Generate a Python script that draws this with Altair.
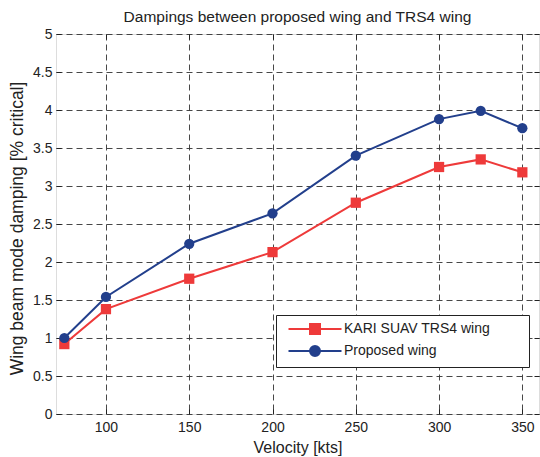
import altair as alt
import pandas as pd

velocity = [75, 100, 150, 200, 250, 300, 325, 350]
kari_trs4 = [0.92, 1.38, 1.78, 2.13, 2.78, 3.25, 3.35, 3.18]
proposed = [1.00, 1.54, 2.24, 2.64, 3.40, 3.88, 3.99, 3.76]
series_names = ["KARI SUAV TRS4 wing", "Proposed wing"]
series_colors = ["#ee3a3a", "#223f8c"]
x_ticks = [100, 150, 200, 250, 300, 350]
y_ticks = [0, 0.5, 1, 1.5, 2, 2.5, 3, 3.5, 4, 4.5, 5]

df = pd.DataFrame({
    "velocity": velocity + velocity,
    "damping": kari_trs4 + proposed,
    "series": [series_names[0]] * len(velocity) + [series_names[1]] * len(velocity),
})

FONT = "Liberation Sans"
xs = alt.Scale(domain=[70, 360], nice=False, zero=False)
ys = alt.Scale(domain=[0, 5], nice=False, zero=False)

x_main = alt.X("velocity:Q", scale=xs, axis=alt.Axis(
    values=x_ticks, title="Velocity [kts]", orient="bottom", ticks=False,
    grid=True, gridDash=[6, 4], gridColor="#333", gridOpacity=0.9,
    labelPadding=6, titlePadding=5, labelFontSize=14, titleFontSize=16,
    labelFont=FONT, titleFont=FONT, labelColor="#222", titleColor="#222",
    titleFontWeight="normal", domain=False))
y_main = alt.Y("damping:Q", scale=ys, axis=alt.Axis(
    values=y_ticks, format="~g", title="Wing beam mode damping [% critical]",
    orient="left", ticks=False, grid=True, gridDash=[6, 4], gridColor="#333",
    gridOpacity=0.9, labelPadding=4, titlePadding=6, labelFontSize=14,
    titleFontSize=17.5, labelFont=FONT, titleFont=FONT, labelColor="#222",
    titleColor="#222", titleFontWeight="normal", domain=False, titleY=194))
x_none = alt.X("velocity:Q", scale=xs, axis=None)
y_none = alt.Y("damping:Q", scale=ys, axis=None)

base = alt.Chart(df)

def series_layers(name, color, shape, with_axes):
    d = base.transform_filter(alt.datum.series == name)
    line = d.mark_line(color=color, strokeWidth=2).encode(
        x=x_main if with_axes else x_none, y=y_main if with_axes else y_none)
    pts = d.mark_point(shape=shape, filled=True, size=105, color=color, opacity=1).encode(
        x=x_none, y=y_none)
    return line, pts

l1, p1 = series_layers(series_names[0], series_colors[0], "square", True)
l2, p2 = series_layers(series_names[1], series_colors[1], "circle", False)

sq_path = "M-5.3,0H5.3M-1,-1H1V1H-1Z"
ci_path = "M-5.3,0H5.3M1,0A1,1 0 1,1 -1,0A1,1 0 1,1 1,0Z"
leg = alt.Legend(title=None, orient="none", legendX=220, legendY=281,
                 strokeColor="#222", fillColor="white", padding=7,
                 symbolSize=100, symbolStrokeWidth=2, symbolOffset=25,
                 labelFontSize=14, labelFont=FONT, labelColor="#222",
                 labelOffset=22, rowPadding=4, labelLimit=400,
                 labelExpr="datum.label + '\u00a0\u00a0\u00a0\u00a0\u00a0\u00a0\u00a0\u00a0\u200b'")

legend_layer = base.transform_filter("false").mark_point(filled=True, opacity=1).encode(
    x=x_none,
    y=y_none,
    fill=alt.Fill("series:N", scale=alt.Scale(domain=series_names, range=series_colors), legend=leg),
    stroke=alt.Stroke("series:N", scale=alt.Scale(domain=series_names, range=series_colors), legend=leg),
    shape=alt.Shape("series:N", scale=alt.Scale(domain=series_names, range=[sq_path, ci_path]), legend=leg),
)

tick_common = dict(labels=False, title=None, grid=False, domain=False, ticks=True,
                   tickSize=5, tickColor="#222", offset=-5)
ticks_bl = base.transform_filter("false").mark_point().encode(
    x=alt.X("velocity:Q", scale=xs, axis=alt.Axis(values=x_ticks, orient="bottom", **tick_common)),
    y=alt.Y("damping:Q", scale=ys, axis=alt.Axis(values=y_ticks, orient="left", **tick_common)),
)
ticks_tr = base.transform_filter("false").mark_point().encode(
    x=alt.X("velocity:Q", scale=xs, axis=alt.Axis(values=x_ticks, orient="top", **tick_common)),
    y=alt.Y("damping:Q", scale=ys, axis=alt.Axis(values=y_ticks, orient="right", **tick_common)),
)

chart = alt.layer(l1, l2, p1, p2, ticks_bl, ticks_tr, legend_layer).resolve_axis(
    x="independent", y="independent"
).properties(
    width=483, height=380,
    autosize=alt.AutoSizeParams(type="none"),
    padding={"left": 56, "top": 34, "right": 1, "bottom": 43},
    title=alt.TitleParams("Dampings between proposed wing and TRS4 wing",
                          font=FONT, fontSize=15.5, fontWeight="normal",
                          color="#222", anchor="middle", offset=10,
                          baseline="alphabetic", dy=20),
).configure_view(stroke="#222", strokeWidth=1.2).configure(background="white")

chart.save("out.html", embed_options={"renderer": "svg", "actions": False})
